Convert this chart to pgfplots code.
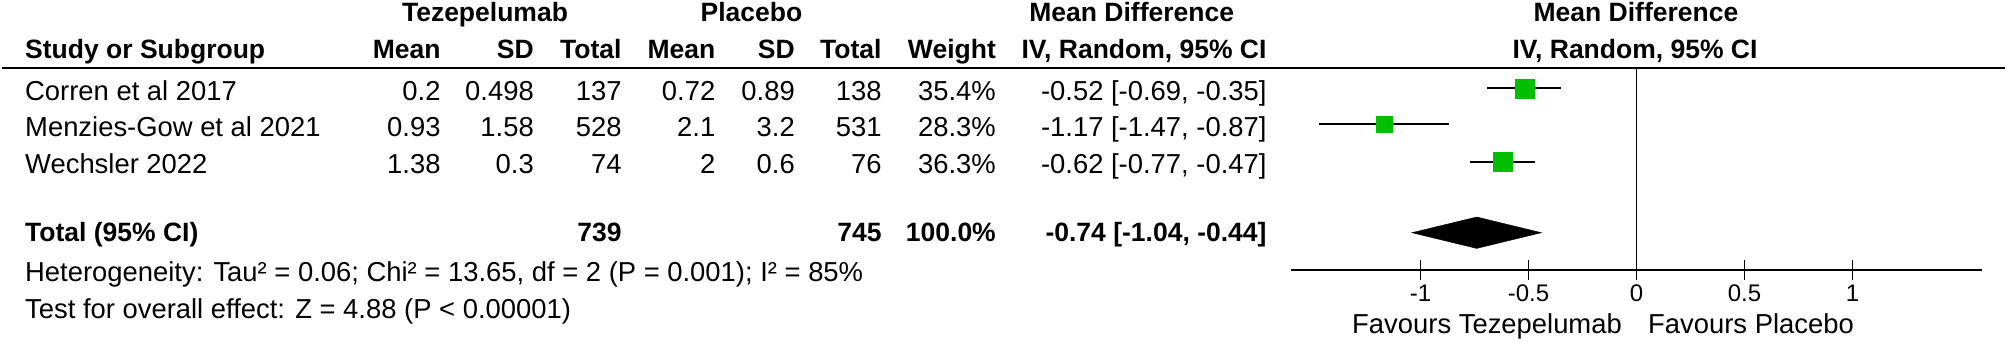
\documentclass[border=0pt]{standalone}
\usepackage{pgfplots}
\pgfplotsset{compat=1.18}
\usepackage{fontspec}
\setmainfont{Liberation Sans}
\definecolor{revgreen}{RGB}{0,190,0}
\newcommand\rf{\fontsize{27.4}{30}\selectfont}
\newcommand\bh{\fontsize{26.5}{30}\selectfont\bfseries}
\tikzset{tx/.style={inner sep=0pt,font=\rf}}
\def\rowy{0}
\newcommand\tabrow[9]{%
  \node[tx,anchor=base west] at (25pt,\rowy pt) {#1};
  \node[tx,anchor=base east] at (440.7pt,\rowy pt) {#2};
  \node[tx,anchor=base east] at (534pt,\rowy pt) {#3};
  \node[tx,anchor=base east] at (621.7pt,\rowy pt) {#4};
  \node[tx,anchor=base east] at (715.5pt,\rowy pt) {#5};
  \node[tx,anchor=base east] at (795pt,\rowy pt) {#6};
  \node[tx,anchor=base east] at (881.7pt,\rowy pt) {#7};
  \node[tx,anchor=base east] at (996pt,\rowy pt) {#8};
  \node[tx,anchor=base east] at (1266.7pt,\rowy pt) {#9};
}
\begin{document}
\begin{tikzpicture}
\path[use as bounding box] (0pt,0pt) rectangle (2007pt,341pt);
\begin{axis}[at={(1290.9pt,71pt)}, anchor=south west,
  x=216pt, y=1pt, xmin=-1.6, xmax=1.6, ymin=71, ymax=273,
  axis x line*=bottom, axis y line=none, clip=false,
  xtick={-1,-0.5,0,0.5,1}, xticklabels={-1,-0.5,0,0.5,1},
  major tick length=20pt, xtick align=center,
  tick style={black, line width=1.8pt},
  axis line style={black, line width=1.8pt},
  xticklabel style={anchor=base, inner sep=0pt, yshift=-21.7pt, font=\fontsize{24}{26}\selectfont}]
% zero line
\addplot[black, line width=1.8pt] coordinates {(0,71) (0,273)};
% confidence intervals
\addplot[black, line width=1.8pt] coordinates {(-0.69,252.7) (-0.35,252.7)};
\addplot[black, line width=1.8pt] coordinates {(-1.47,217) (-0.87,217)};
\addplot[black, line width=1.8pt] coordinates {(-0.77,179.3) (-0.47,179.3)};
% point estimates
\addplot[revgreen, only marks, mark=square*, mark size=9.5pt, mark options={draw=none, fill=revgreen}] coordinates {(-0.52,252.7)};
\addplot[revgreen, only marks, mark=square*, mark size=8pt, mark options={draw=none, fill=revgreen}] coordinates {(-1.17,217)};
\addplot[revgreen, only marks, mark=square*, mark size=9.25pt, mark options={draw=none, fill=revgreen}] coordinates {(-0.62,179.3)};
% pooled diamond
\addplot[fill=black, draw=black] coordinates {(-1.04,108.3) (-0.74,124) (-0.44,108.3) (-0.74,92.6)} -- cycle;
\end{axis}
% header rule (as a TeX rule inside a node, and as a filled strip)
\node[anchor=west, inner sep=0pt] at (2pt,273pt) {\rule{2003pt}{2.2pt}};
\fill[black] (2pt,271.9pt) rectangle (2005pt,274.1pt);
% header row 1
\node[tx,anchor=base] at (485pt,319.3pt) {\bh Tezepelumab};
\node[tx,anchor=base] at (751.5pt,319.3pt) {\bh Placebo};
\node[tx,anchor=base] at (1131.7pt,319.3pt) {\bh Mean Difference};
\node[tx,anchor=base] at (1636pt,319.3pt) {\bh Mean Difference};
% header row 2
\def\rowy{282.7}
\tabrow{\bh Study or Subgroup}{\bh Mean}{\bh SD}{\bh Total}{\bh Mean}{\bh SD}{\bh Total}{\bh Weight}{\bh IV, Random, 95\% CI}
\node[tx,anchor=base] at (1635pt,282.7pt) {\bh IV, Random, 95\% CI};
% studies
\def\rowy{241}
\tabrow{Corren et al 2017}{0.2}{0.498}{137}{0.72}{0.89}{138}{35.4\%}{-0.52 [-0.69, -0.35]}
\def\rowy{204.3}
\tabrow{Menzies-Gow et al 2021}{0.93}{1.58}{528}{2.1}{3.2}{531}{28.3\%}{-1.17 [-1.47, -0.87]}
\def\rowy{167.7}
\tabrow{Wechsler 2022}{1.38}{0.3}{74}{2}{0.6}{76}{36.3\%}{-0.62 [-0.77, -0.47]}
% total
\def\rowy{99.3}
\tabrow{\bh Total (95\% CI)}{}{}{\bh 739}{}{}{\bh 745}{\bh 100.0\%}{\bh -0.74 [-1.04, -0.44]}
% footnotes
\node[tx,anchor=base west] at (25pt,59.3pt) {Heterogeneity: Tau² = 0.06; Chi² = 13.65, df = 2 (P = 0.001); I² = 85\%};
\node[tx,anchor=base west] at (25pt,22.7pt) {Test for overall effect: Z = 4.88 (P < 0.00001)};
% favours labels
\node[tx,anchor=base east] at (1622pt,7.7pt) {Favours Tezepelumab};
\node[tx,anchor=base west] at (1648pt,7.7pt) {Favours Placebo};
\end{tikzpicture}
\end{document}
